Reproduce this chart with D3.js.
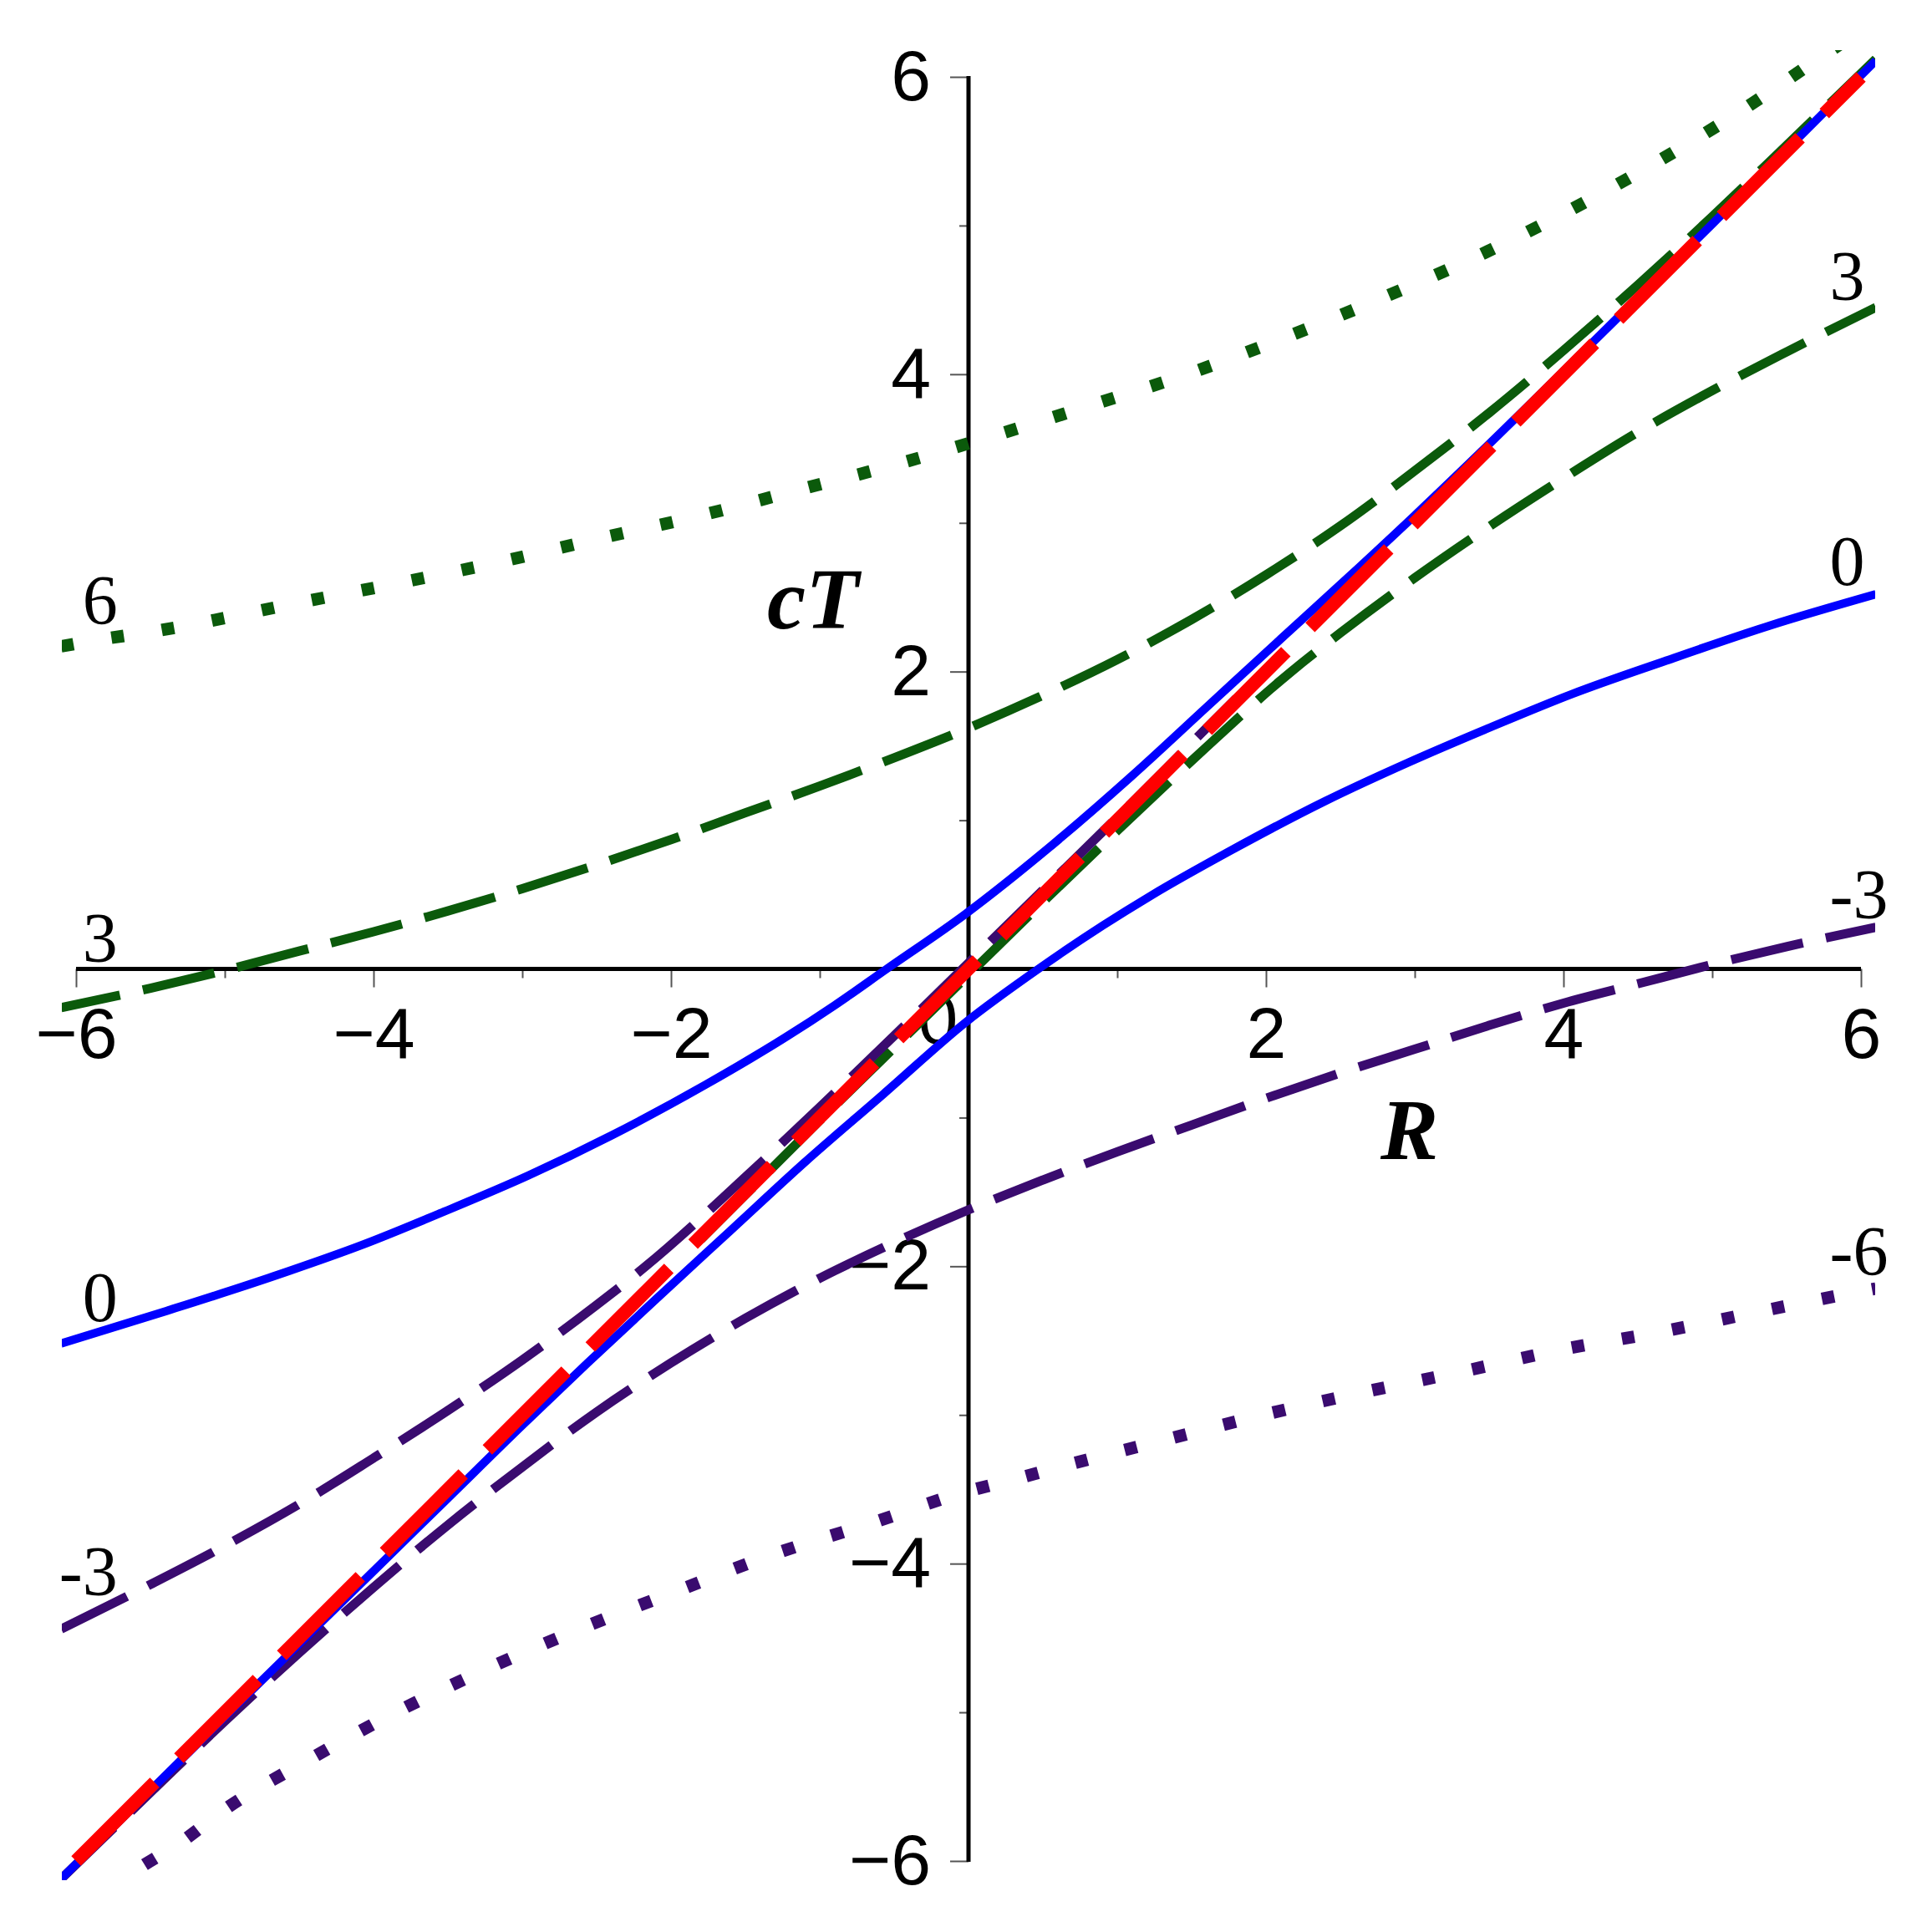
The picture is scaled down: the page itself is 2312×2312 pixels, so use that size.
<!DOCTYPE html>
<html>
<head>
<meta charset="utf-8">
<script src="https://cdn.jsdelivr.net/npm/d3@7"></script>
<style>
  html, body { margin: 0; padding: 0; background: #ffffff; }
  svg { display: block; }
</style>
</head>
<body>
<script>
// ---------------- data ----------------
const xMajorTicks = [-6, -4, -2, 0, 2, 4, 6];
const yMajorTicks = [-6, -4, -2, 2, 4, 6];
const minorTicks  = [-5, -3, -1, 1, 3, 5];

// curve value 6 (dotted green) and -6 (dotted purple)
const curve6 = [[-6.1,2.17],[-5.81,2.22],[-5.48,2.27],[-4.47,2.47],[-3.81,2.60],[-3.14,2.74],[-2.46,2.90],[-1.80,3.05],[-1.15,3.22],[-0.50,3.39],[0.15,3.58],[0.82,3.79],[1.47,4.00],[2.11,4.24],[2.75,4.50],[3.37,4.77],[3.98,5.07],[4.58,5.40],[5.16,5.75],[5.74,6.14],[6.1,6.38]];
const curveM6 = [[-6.1,-6.42],[-5.58,-6.05],[-5.29,-5.87],[-5.01,-5.66],[-4.42,-5.31],[-3.83,-4.99],[-3.22,-4.70],[-2.59,-4.43],[-1.95,-4.18],[-1.32,-3.94],[-0.66,-3.73],[-0.03,-3.52],[0.32,-3.43],[0.65,-3.34],[1.31,-3.17],[1.98,-3.00],[2.64,-2.85],[3.31,-2.71],[3.99,-2.56],[4.66,-2.44],[5.34,-2.30],[5.99,-2.17],[6.1,-2.15]];

// curve value 3 (dashed green), two branches
const curve3a = [[-6.1,-0.26],[-5.5,-0.13],[-5.0,-0.01],[-4.5,0.12],[-4.0,0.25],[-3.5,0.39],[-3.0,0.54],[-2.5,0.70],[-2.0,0.87],[-1.5,1.05],[-1.0,1.23],[-0.5,1.42],[0.0,1.62],[0.5,1.84],[1.0,2.08],[1.5,2.35],[2.0,2.65],[2.5,2.98],[3.0,3.35],[3.5,3.74],[4.0,4.16],[4.5,4.60],[5.0,5.06],[5.5,5.54],[6.1,6.12]];
const curve3b = [[-1.8,-1.82],[-1.5,-1.52],[-1.0,-1.02],[-0.5,-0.53],[0.0,-0.04],[0.5,0.45],[1.0,0.93],[1.5,1.40],[2.17,2.00],[2.5,2.26],[3.0,2.63],[3.5,2.975],[4.0,3.30],[4.5,3.61],[5.0,3.89],[5.5,4.15],[6.1,4.45]];

// curve value -3 (dashed purple), two branches
const curveM3a = [[-6.1,-4.44],[-5.5,-4.14],[-5.0,-3.88],[-4.5,-3.60],[-4.0,-3.29],[-3.5,-2.97],[-3.0,-2.63],[-2.5,-2.26],[-2.17,-2.00],[-1.5,-1.40],[-1.0,-0.93],[-0.5,-0.45],[0.0,0.04],[0.5,0.53],[1.0,1.02],[1.5,1.52],[1.8,1.82]];
const curveM3b = [[-6.1,-6.12],[-5.5,-5.54],[-5.0,-5.06],[-4.5,-4.60],[-4.0,-4.16],[-3.5,-3.74],[-3.0,-3.35],[-2.5,-2.98],[-2.0,-2.65],[-1.5,-2.35],[-1.0,-2.08],[-0.5,-1.84],[0.0,-1.62],[0.5,-1.42],[1.0,-1.23],[1.5,-1.05],[2.0,-0.87],[2.5,-0.70],[3.0,-0.54],[3.5,-0.38],[4.0,-0.23],[4.5,-0.10],[5.0,0.03],[5.5,0.15],[6.1,0.28]];

// curve value 0 (solid blue), two branches
const curve0a = [[-6.1,-2.52],[-5.39,-2.30],[-4.68,-2.07],[-4.06,-1.85],[-3.52,-1.63],[-2.96,-1.39],[-2.40,-1.12],[-1.77,-0.78],[-1.23,-0.46],[-0.90,-0.245],[-0.55,0.00],[-0.02,0.37],[0.57,0.84],[1.10,1.30],[1.60,1.76],[2.10,2.22],[2.56,2.64],[3.0,3.05],[3.5,3.53],[4.0,4.02],[4.5,4.515],[5.0,5.01],[6.1,6.11]];
const curve0b = [[-6.1,-6.12],[-5.0,-5.03],[-4.5,-4.54],[-4.0,-4.05],[-3.5,-3.56],[-3.0,-3.07],[-2.56,-2.65],[-2.10,-2.22],[-1.60,-1.76],[-1.10,-1.30],[-0.57,-0.84],[-0.02,-0.36],[0.47,0.00],[0.90,0.29],[1.23,0.495],[1.77,0.80],[2.40,1.13],[2.96,1.39],[3.52,1.63],[4.06,1.85],[4.68,2.07],[5.39,2.31],[6.1,2.52]];

// light cone cT = R (dashed red)
const lightCone = [[-6,-6],[6,6]];

// curve labels: [text, R, cT]
const curveLabelsLeft  = [["6",-5.72,2.32],["3",-5.72,0.05],["0",-5.72,-2.37],["-3",-5.72,-4.21]];
const curveLabelsRight = [["3",5.79,4.50],["0",5.79,2.58],["-3",5.79,0.34],["-6",5.79,-2.06]];

const axisLabelX = "R";
const axisLabelY = "cT";

// ---------------- drawing ----------------
const W = 2312, H = 2312;
const GREEN = "#0b5a0b", PURPLE = "#3a0b6f", BLUE = "#0000ff", RED = "#ff0000";

const x = d3.scaleLinear().domain([-6, 6]).range([91, 2227]);
const y = d3.scaleLinear().domain([-6, 6]).range([2227, 92]);

const svg = d3.select("body").append("svg")
  .attr("width", W).attr("height", H)
  .attr("viewBox", `0 0 ${W} ${H}`);

svg.append("rect").attr("width", W).attr("height", H).attr("fill", "#fff");

const tickFont = "'Liberation Sans', Arial, Helvetica, sans-serif";
const serifFont = "'Liberation Serif', 'Times New Roman', Times, serif";
const fmt = d => (d < 0 ? "\u2212" + Math.abs(d) : String(d));

// x axis: major ticks with labels
const gx = svg.append("g").attr("transform", `translate(0,${y(0)})`)
  .call(d3.axisBottom(x).tickValues(xMajorTicks).tickSize(22).tickPadding(23).tickFormat(fmt));
const gxMinor = svg.append("g").attr("transform", `translate(0,${y(0)})`)
  .call(d3.axisBottom(x).tickValues(minorTicks).tickSize(11).tickFormat(""));
// y axis
const gy = svg.append("g").attr("transform", `translate(${x(0)},0)`)
  .call(d3.axisLeft(y).tickValues(yMajorTicks).tickSize(22).tickPadding(23).tickFormat(fmt));
const gyMinor = svg.append("g").attr("transform", `translate(${x(0)},0)`)
  .call(d3.axisLeft(y).tickValues(minorTicks).tickSize(11).tickFormat(""));

[gx, gxMinor, gy, gyMinor].forEach(g => {
  g.select(".domain").remove();
  g.selectAll(".tick line").attr("stroke", "#555").attr("stroke-width", 2);
  g.selectAll(".tick text").attr("fill", "#000")
    .style("font-family", tickFont).style("font-size", "86px");
});
// the "0" label of the x axis sits left of the vertical axis and a bit higher
gx.selectAll(".tick").filter(d => d === 0).select("text")
  .attr("x", -37).attr("y", 22 + 23 - 17);
gx.selectAll(".tick").filter(d => d === 0).select("line").remove();

// axis lines
svg.append("line").attr("x1", x(-6)).attr("x2", x(6)).attr("y1", y(0)).attr("y2", y(0))
  .attr("stroke", "#000").attr("stroke-width", 5);
svg.append("line").attr("x1", x(0)).attr("x2", x(0)).attr("y1", y(6) - 1).attr("y2", y(-6) + 1)
  .attr("stroke", "#000").attr("stroke-width", 5);

// clip region of the curves
svg.append("clipPath").attr("id", "plotclip").append("rect")
  .attr("x", 74).attr("y", 60).attr("width", 2244 - 74).attr("height", 2250 - 60);

const line = d3.line().x(d => x(d[0])).y(d => y(d[1])).curve(d3.curveMonotoneX);
const straight = d3.line().x(d => x(d[0])).y(d => y(d[1]));
const plot = svg.append("g").attr("clip-path", "url(#plotclip)");

const series = [
  { data: curve6,   color: GREEN,  width: 15, dash: "15,46", offset: 0 },
  { data: curveM6,  color: PURPLE, width: 15, dash: "15,46", offset: 0 },
  { data: curve3a,  color: GREEN,  width: 11, dash: "88,28", offset: 16 },
  { data: curve3b,  color: GREEN,  width: 11, dash: "88,28", offset: 0 },
  { data: curveM3a, color: PURPLE, width: 11, dash: "88,28", offset: 0 },
  { data: curveM3b, color: PURPLE, width: 11, dash: "88,28", offset: 0 },
  { data: curve0a,  color: BLUE,   width: 10, dash: null,    offset: 0 },
  { data: curve0b,  color: BLUE,   width: 10, dash: null,    offset: 0 },
  { data: lightCone, color: RED,   width: 16, dash: "133,41", offset: 0, straight: true }
];

series.forEach(s => {
  const p = plot.append("path")
    .attr("d", s.straight ? straight(s.data) : line(s.data))
    .attr("fill", "none")
    .attr("stroke", s.color)
    .attr("stroke-width", s.width)
    .attr("stroke-linecap", "butt")
    .attr("stroke-linejoin", "round");
  if (s.dash) p.attr("stroke-dasharray", s.dash).attr("stroke-dashoffset", s.offset);
});

// curve labels
svg.append("g").selectAll("text").data(curveLabelsLeft).join("text")
  .attr("x", d => x(d[1])).attr("y", d => y(d[2]))
  .attr("text-anchor", "end")
  .style("font-family", serifFont).style("font-size", "84px")
  .text(d => d[0]);
svg.append("g").selectAll("text").data(curveLabelsRight).join("text")
  .attr("x", d => x(d[1])).attr("y", d => y(d[2]))
  .attr("text-anchor", "start")
  .style("font-family", serifFont).style("font-size", "84px")
  .text(d => d[0]);

// axis titles
svg.append("text").attr("x", 918).attr("y", 752)
  .style("font-family", serifFont).style("font-size", "104px")
  .style("font-weight", "bold").style("font-style", "italic")
  .text(axisLabelY);
svg.append("text").attr("x", 1652).attr("y", 1387)
  .style("font-family", serifFont).style("font-size", "104px")
  .style("font-weight", "bold").style("font-style", "italic")
  .text(axisLabelX);
</script>
</body>
</html>
